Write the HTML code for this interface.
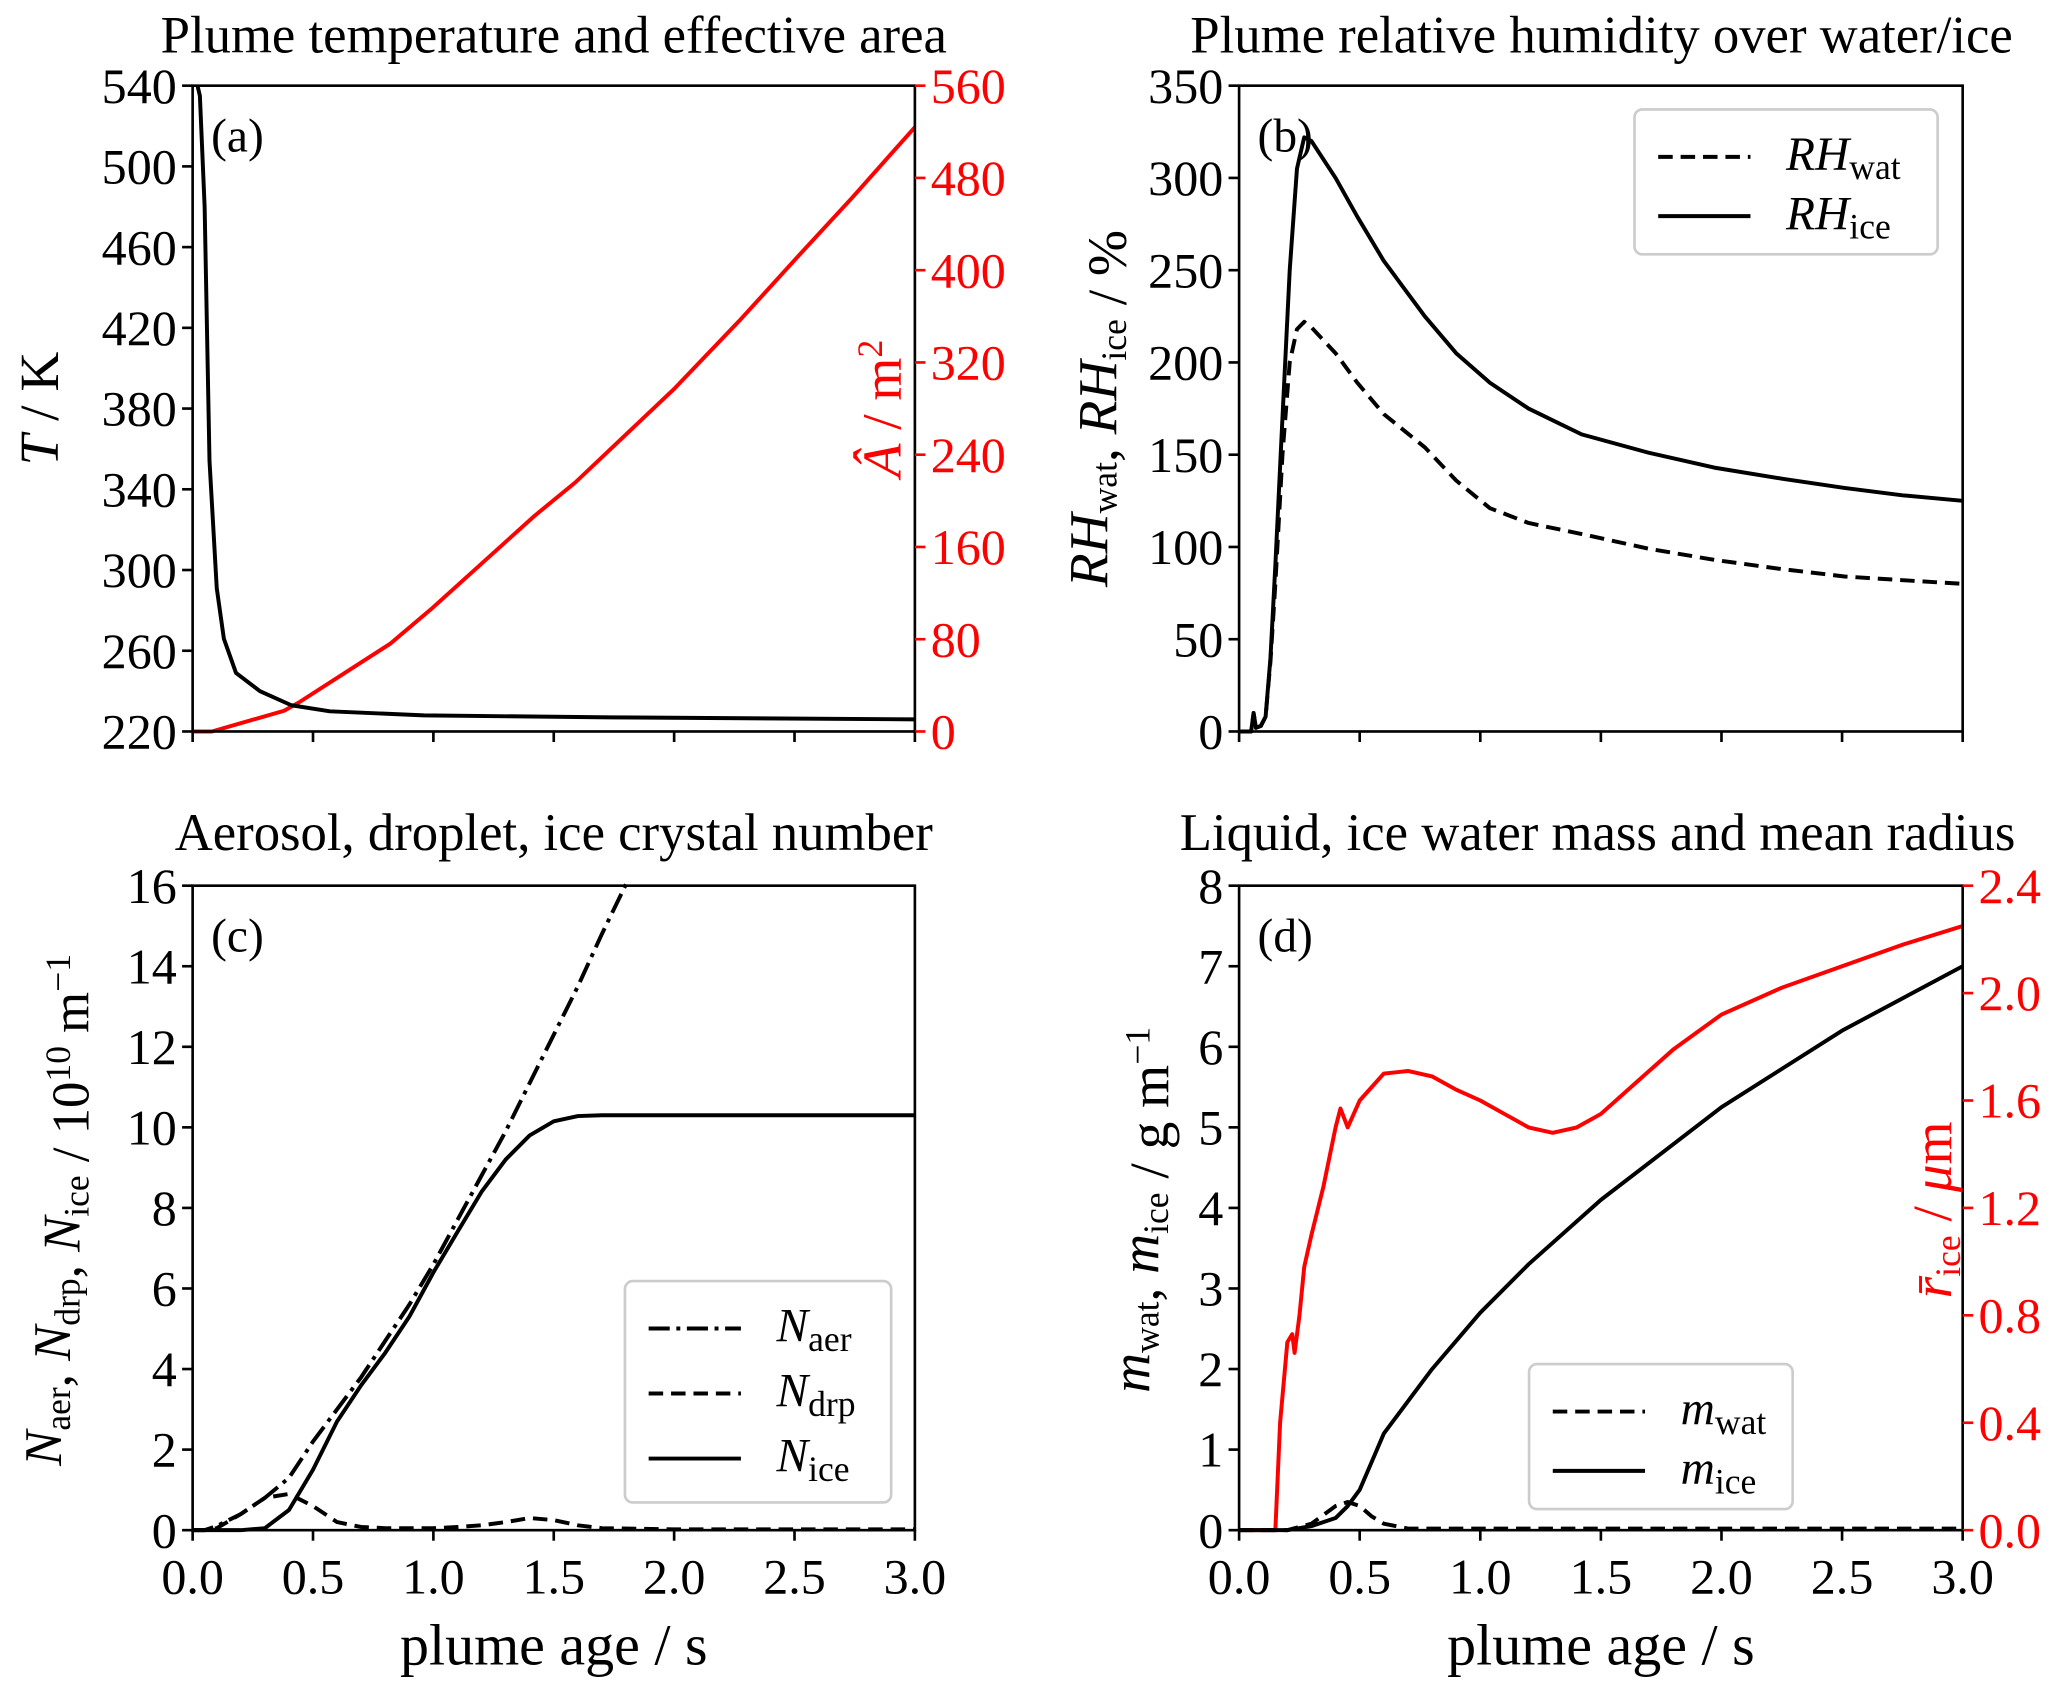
<!DOCTYPE html>
<html><head><meta charset="utf-8"><style>
html,body{margin:0;padding:0;background:#fff}
svg{display:block}
text{font-family:"Liberation Serif",serif}
</style></head><body>
<svg id="fig" width="2067" height="1687" viewBox="0 0 1568 1280" xmlns="http://www.w3.org/2000/svg"></svg>
<script>
// ---- data ----
const tT=[0.02,0.03,0.05,0.07,0.1,0.13,0.18,0.28,0.41,0.57,0.96,1.74,3.0];
const vT=[540,535,480,354,291,266,249,240,233,230,228,227,226];
const tA=[0,0.08,0.38,0.44,0.82,0.99,1.42,1.59,2.0,2.27,2.51,2.74,3.0];
const vA=[0,0,18,25,76,106,187,216,297,356,411,463,524];
const tRH=[0,0.05,0.06,0.07,0.09,0.11,0.13,0.15,0.18,0.21,0.24,0.27,0.3,0.35,0.4,0.49,0.6,0.77,0.9,1.04,1.2,1.42,1.7,1.97,2.25,2.51,2.75,3.0];
const vRHice=[0,0,10,2,3,8,40,90,170,250,305,322,320,310,300,279,255,225,205,189,175,161,151,143,137,132,128,125];
const vRHwat=[0,0,10,2,3,8,38,80,150,200,218,222,219,212,205,189,172,154,136,121,113,107,99,93,88,84,82,80];
const tN=[0,0.05,0.1,0.2,0.3,0.4,0.5,0.6,0.7,0.8,0.9,1.0,1.1,1.2,1.3,1.4,1.5,1.6,1.7,2.0,3.0];
const vNaer=[0,0,0.1,0.4,0.8,1.3,2.2,3.0,3.8,4.7,5.6,6.6,7.7,8.8,9.9,11.1,12.3,13.5,14.8,18.5,30];
const vNice=[0,0,0,0,0.05,0.5,1.5,2.7,3.6,4.4,5.3,6.4,7.4,8.4,9.2,9.8,10.15,10.28,10.3,10.3,10.3];
const vNdrp=[0,0,0.05,0.4,0.8,0.9,0.6,0.2,0.08,0.05,0.05,0.05,0.08,0.12,0.2,0.3,0.25,0.12,0.05,0.02,0.02];
const tM=[0,0.2,0.3,0.4,0.45,0.5,0.55,0.6,0.7,0.8,1.0,1.2,1.5,2.0,2.5,3.0];
const vMice=[0,0,0.05,0.15,0.3,0.5,0.85,1.2,1.6,2.0,2.7,3.3,4.1,5.25,6.2,7.0];
const vMwat=[0,0,0.08,0.3,0.35,0.3,0.17,0.08,0.02,0.02,0.02,0.02,0.02,0.02,0.02,0.02];
const tR=[0,0.15,0.17,0.2,0.22,0.23,0.25,0.27,0.3,0.35,0.4,0.42,0.45,0.5,0.6,0.7,0.8,0.9,1.0,1.1,1.2,1.3,1.4,1.5,1.65,1.8,2.0,2.25,2.5,2.75,3.0];
const vR=[0,0,0.4,0.7,0.73,0.66,0.8,0.98,1.1,1.28,1.5,1.57,1.5,1.6,1.7,1.71,1.69,1.64,1.6,1.55,1.5,1.48,1.5,1.55,1.67,1.79,1.92,2.02,2.1,2.18,2.25];
const xTicks=[0,0.5,1,1.5,2,2.5,3];
const ticksT=[220,260,300,340,380,420,460,500,540];
const ticksA=[0,80,160,240,320,400,480,560];
const ticksRH=[0,50,100,150,200,250,300,350];
const ticksN=[0,2,4,6,8,10,12,14,16];
const ticksM=[0,1,2,3,4,5,6,7,8];
const ticksR=[0,0.4,0.8,1.2,1.6,2.0,2.4];

const NS="http://www.w3.org/2000/svg";
const svg=document.getElementById('fig');
const TF=38;
function el(tag,attrs,parent,txt){const e=document.createElementNS(NS,tag);for(const k in attrs)e.setAttribute(k,attrs[k]);if(txt!==undefined)e.innerHTML=txt;(parent||svg).appendChild(e);return e;}
function panel(x0,x1,y0,y1){return {x0,x1,y0,y1,sx:t=>x0+(t/3)*(x1-x0),sy:(v,lo,hi)=>y1-(v-lo)/(hi-lo)*(y1-y0)};}
function line(P,ts,vs,lo,hi,color,dash,name){
  const g=el('g',{'clip-path':'url(#'+P.clip+')'});
  const pts=ts.map((t,i)=>P.sx(t).toFixed(1)+','+P.sy(vs[i],lo,hi).toFixed(1)).join(' ');
  const p=el('polyline',{points:pts,fill:'none',stroke:color,'stroke-width':3,'stroke-linejoin':'round'},g);
  if(dash)p.setAttribute('stroke-dasharray',dash);
  
  
}
function frame(P,id,title,tcx,tcy,label){
  P.clip=id;
  const d=el('defs',{});const c=el('clipPath',{id:id},d);
  el('rect',{x:P.x0,y:P.y0-2,width:P.x1-P.x0,height:P.y1-P.y0+4},c);
  const t=el('text',{x:tcx,y:tcy,'font-size':40,'text-anchor':'middle'},svg,title);
  
  const l=el('text',{x:P.x0+14,y:P.y0+50,'font-size':36,'font-family':'"DejaVu Sans Condensed","Liberation Sans",sans-serif'},svg,label);
  
}
function box(P){const r=el('rect',{x:P.x0,y:P.y0,width:P.x1-P.x0,height:P.y1-P.y0,fill:'none',stroke:'#000','stroke-width':2});}
function yAxisLeft(P,ticks,lo,hi,fmt){
  ticks.forEach(v=>{const y=P.sy(v,lo,hi);el('line',{x1:P.x0-8,x2:P.x0,y1:y,y2:y,stroke:'#000','stroke-width':2});
    const t=el('text',{x:P.x0-12,y:y+13,'font-size':TF,'text-anchor':'end'},svg,fmt?fmt(v):v);});
}
function yAxisRight(P,ticks,lo,hi,fmt){
  ticks.forEach(v=>{const y=P.sy(v,lo,hi);el('line',{x1:P.x1,x2:P.x1+8,y1:y,y2:y,stroke:'red','stroke-width':2});
    const t=el('text',{x:P.x1+12,y:y+13,'font-size':TF,fill:'red'},svg,fmt?fmt(v):v);});
}
function xAxis(P,labels){
  xTicks.forEach(v=>{const x=P.sx(v);el('line',{x1:x,x2:x,y1:P.y1,y2:P.y1+8,stroke:'#000','stroke-width':2});
    if(labels){const t=el('text',{x:x,y:P.y1+48,'font-size':TF,'text-anchor':'middle'},svg,v.toFixed(1));}});
  if(labels){const t=el('text',{x:(P.x0+P.x1)/2,y:P.y1+102,'font-size':44,'text-anchor':'middle'},svg,'plume age / s');}
}
function ylab(x,y,html,color,name,fs){const t=el('text',{x:0,y:0,'font-size':fs||42,'text-anchor':'middle',fill:color||'#000',transform:'translate('+x+','+y+') rotate(-90)'},svg,html);}
function legend(x,y,w,h,entries,name){
  const g=el('g',{});
  el('rect',{x:x,y:y,width:w,height:h,rx:6,fill:'#fff',stroke:'#ccc','stroke-width':2},g);
  entries.forEach((e,i)=>{const yy=y+36+i*(h-20)/entries.length;
    const l=el('line',{x1:x+18,x2:x+88,y1:yy,y2:yy,stroke:'#000','stroke-width':3},g);if(e[1])l.setAttribute('stroke-dasharray',e[1]);
    el('text',{x:x+115,y:yy+10,'font-size':36},g,e[0]);});
}
const sub=(a,b)=>'<tspan font-style="italic">'+a+'</tspan><tspan font-size="27" dy="7">'+b+'</tspan><tspan dy="-7"></tspan>';

// Panel a
const A=panel(146,694,65,555);
frame(A,'ca','Plume temperature and effective area',420,40,'(a)');
line(A,tA,vA,0,560,'red',null,'area-line');
line(A,tT,vT,220,540,'#000',null,'temperature-line');
box(A);yAxisLeft(A,ticksT,220,540);yAxisRight(A,ticksA,0,560);xAxis(A,false);
ylab(44,310,'<tspan font-style="italic">T</tspan> / K','#000','y-axis-title-left');
ylab(683,310,'<tspan font-style="italic">Â</tspan> / m<tspan font-size="27" dy="-14">2</tspan>','red','y-axis-title-right');

// Panel b
const B=panel(940,1489,65,555);
frame(B,'cb','Plume relative humidity over water/ice',1215,40,'(b)');
line(B,tRH,vRHwat,0,350,'#000','11,6','rh-wat-line');
line(B,tRH,vRHice,0,350,'#000',null,'rh-ice-line');
box(B);yAxisLeft(B,ticksRH,0,350);xAxis(B,false);
ylab(840,310,sub('RH','wat')+', '+sub('RH','ice')+' / %','#000','y-axis-title');
legend(1240,83,230,110,[[sub('RH','wat'),'11,6'],[sub('RH','ice'),null]],'legend-b');

// Panel c
const C=panel(146,694,672,1161);
frame(C,'cc','Aerosol, droplet, ice crystal number',420,645,'(c)');
line(C,tN,vNaer,0,16,'#000','16,5,3,5','n-aer-line');
line(C,tN,vNdrp,0,16,'#000','11,6','n-drp-line');
line(C,tN,vNice,0,16,'#000',null,'n-ice-line');
box(C);yAxisLeft(C,ticksN,0,16);xAxis(C,true);
ylab(46,918,sub('N','aer')+', '+sub('N','drp')+', '+sub('N','ice')+' / 10<tspan font-size="27" dy="-14">10</tspan><tspan dy="14"> m</tspan><tspan font-size="27" dy="-14">−1</tspan>','#000','y-axis-title',40);
legend(474,972,202,168,[[sub('N','aer'),'16,5,3,5'],[sub('N','drp'),'11,6'],[sub('N','ice'),null]],'legend-c');

// Panel d
const D=panel(940,1489,672,1161);
frame(D,'cd','Liquid, ice water mass and mean radius',1212,645,'(d)');
line(D,tR,vR,0,2.4,'red',null,'radius-line');
line(D,tM,vMwat,0,8,'#000','11,6','m-wat-line');
line(D,tM,vMice,0,8,'#000',null,'m-ice-line');
box(D);yAxisLeft(D,ticksM,0,8);yAxisRight(D,ticksR,0,2.4,v=>v.toFixed(1));xAxis(D,true);
ylab(872,918,sub('m','wat')+', '+sub('m','ice')+' / g m<tspan font-size="27" dy="-14">−1</tspan>','#000','y-axis-title-left');
ylab(1480,918,'<tspan font-style="italic">r̄</tspan><tspan font-size="27" dy="7">ice</tspan><tspan dy="-7"> / </tspan><tspan font-style="italic">μ</tspan>m','red','y-axis-title-right');
legend(1160,1035,200,110,[[sub('m','wat'),'11,6'],[sub('m','ice'),null]],'legend-d');
</script>
</body></html>
